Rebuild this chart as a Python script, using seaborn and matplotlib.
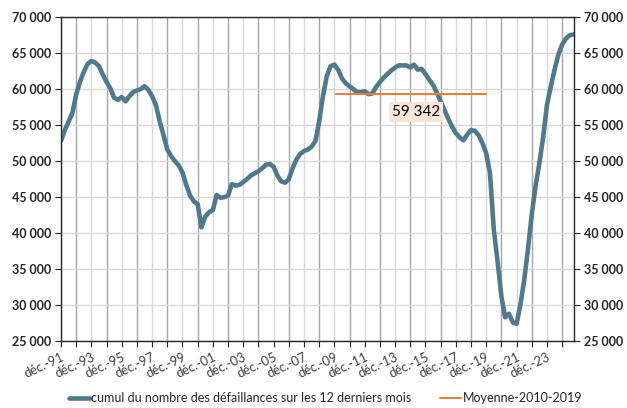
import matplotlib
matplotlib.use("Agg")
import matplotlib.pyplot as plt
import seaborn as sns
import pandas as pd

# cumul sur 12 mois des défaillances, relevé trimestriel (déc. 1991 -> sept. 2025)
values_1991_2001 = [52800, 54300, 55500, 56700, 59300, 61000, 62400, 63500,
                    63900, 63700, 63200, 62000, 61000, 60100, 58800, 58500,
                    58900, 58300, 59000, 59600, 59800, 60000, 60400, 59900,
                    59000, 57800, 55500, 53600, 51600, 50700, 50000, 49400,
                    48400, 46700, 45200, 44400, 44000, 40800, 42300, 42900]
values_2001_2010 = [43200, 45300, 44900, 45000, 45200, 46800, 46600, 46700,
                    47100, 47500, 48000, 48300, 48600, 49000, 49500, 49600,
                    49200, 48000, 47200, 47000, 47500, 49000, 50200, 51000,
                    51400, 51600, 52000, 52800, 55500, 59000, 61800, 63200,
                    63400]
values_2010_2025 = [62700, 61500, 60800, 60400, 60000, 59600, 59600, 59700,
                    59300, 59400, 60300, 61000, 61600, 62100, 62600, 63000,
                    63300, 63300, 63300, 63000, 63400, 62700, 62800, 62100,
                    61300, 60600, 59500, 58300, 57100, 55900, 54800, 53900,
                    53300, 52900, 53700, 54300, 54200, 53600, 52500, 51100,
                    48300, 40500, 36000, 31200, 28300, 28800, 27600, 27400,
                    30000, 33400, 37800, 42600, 46500, 49700, 53300, 57800,
                    60300, 62700, 64800, 66200, 67000, 67500, 67600]
defaillances = values_1991_2001 + values_2001_2010 + values_2010_2025
dates = pd.date_range("1991-12-01", periods=len(defaillances), freq="3MS")

moyenne_dates = pd.to_datetime(["2010-01-01", "2019-12-01"])
moyenne_values = [59342, 59342]
moyenne_label = "59 342"

x_tick_dates = pd.to_datetime([f"{y}-12-01" for y in range(1991, 2025)])
x_tick_labels = ["déc.-91", "", "déc.-93", "", "déc.-95", "", "déc.-97", "",
                 "déc.-99", "", "déc.-01", "", "déc.-03", "", "déc.-05", "",
                 "déc.-07", "", "déc.-09", "", "déc.-11", "", "déc.-13", "",
                 "déc.-15", "", "déc.-17", "", "déc.-19", "", "déc.-21", "",
                 "déc.-23", ""]
y_ticks = [25000, 30000, 35000, 40000, 45000, 50000, 55000, 60000, 65000, 70000]
y_tick_labels = ["25 000", "30 000", "35 000", "40 000", "45 000",
                 "50 000", "55 000", "60 000", "65 000", "70 000"]

sns.set_style("white")
plt.rcParams["font.family"] = ["Lato", "DejaVu Sans"]

fig = plt.figure(figsize=(6.27, 4.08), dpi=100)
ax = fig.add_axes([0.0973, 0.164, 0.8187, 0.794])

# grille : lignes verticales alternées foncées / claires
for i, d in enumerate(x_tick_dates):
    ax.axvline(d, color="#A6A6A6" if i % 2 == 1 else "#D9D9D9", lw=1.0, zorder=0)
for v in y_ticks:
    ax.axhline(v, color="#D9D9D9", lw=1.0, zorder=0)

sns.lineplot(x=dates, y=defaillances, ax=ax, color="#507A8C", lw=3.3,
             label="cumul du nombre des défaillances sur les 12 derniers mois")
sns.lineplot(x=moyenne_dates, y=moyenne_values, ax=ax, color="#ED7D31", lw=1.5,
             label="Moyenne-2010-2019")

ax.text(pd.Timestamp("2015-04-15"), 56800, moyenne_label, fontsize=11,
        ha="center", va="center", color="black",
        bbox=dict(boxstyle="square,pad=0.2", facecolor="#FBE5D6", edgecolor="none"))

ax.set_xlim(pd.Timestamp("1991-12-01"), pd.Timestamp("2025-09-20"))
ax.set_ylim(25000, 70000)
ax.set_xticks(x_tick_dates)
ax.set_xticklabels(x_tick_labels, rotation=25, ha="right", rotation_mode="anchor",
                   fontsize=9.3, color="#404040")
ax.set_yticks(y_ticks)
ax.set_yticklabels(y_tick_labels, fontsize=9, fontweight="bold", color="#262626")
ax.tick_params(axis="x", bottom=True, length=4, width=0.8, pad=3)
ax.tick_params(axis="y", left=True, right=True, labelright=True, length=4, width=0.8, pad=3)
for lab in ax.get_yticklabels(which="both"):
    lab.set_fontweight("bold")
ax.set_xlabel("")
ax.set_ylabel("")
for s in ax.spines.values():
    s.set_color("#262626")
    s.set_linewidth(1.0)

ax.legend(loc="center", bbox_to_anchor=(0.515, -0.176), ncol=2, frameon=False,
          fontsize=9, handlelength=1.7, handletextpad=0.1, columnspacing=2.3)

fig.savefig("out.png", dpi=100)
